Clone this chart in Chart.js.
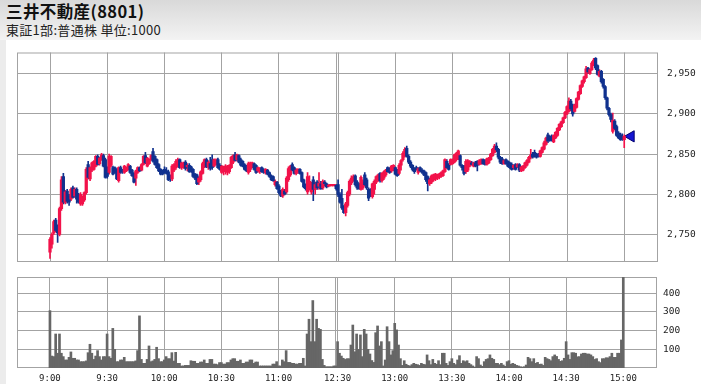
<!DOCTYPE html>
<html>
<head>
<meta charset="utf-8">
<script src="https://cdn.jsdelivr.net/npm/chart.js@4.4.1/dist/chart.umd.min.js"></script>
<style>
    body {
        margin: 0;
        width: 701px;
        height: 384px;
        overflow: hidden;
        position: relative;
        background: #ffffff;
        font-family: "Noto Sans CJK JP", sans-serif;
    }
    .header {
        position: absolute;
        left: 0;
        top: 0;
        width: 701px;
        height: 40px;
        background: linear-gradient(#d9d9d9, #f3f3f3);
    }
    .title {
        position: absolute;
        left: 6px;
        top: -1px;
        font-size: 16.5px;
        font-weight: bold;
        letter-spacing: 0.4px;
        color: #111;
        white-space: nowrap;
    }
    .subtitle {
        position: absolute;
        left: 6px;
        top: 20px;
        font-size: 13px;
        letter-spacing: 0.3px;
        color: #222;
        white-space: nowrap;
    }
    .strip {
        position: absolute;
        left: 0;
        top: 40px;
        width: 6px;
        height: 344px;
        background: #ececec;
    }
    #price-chart {
        position: absolute;
        left: 0;
        top: 45px;
    }
    #volume-chart {
        position: absolute;
        left: 0;
        top: 270px;
    }
</style>
</head>
<body>
<div class="header">
    <div class="title">三井不動産(8801)</div>
    <div class="subtitle">東証1部:普通株 単位:1000</div>
</div>
<div class="strip"></div>
<canvas id="price-chart" width="701" height="225"></canvas>
<canvas id="volume-chart" width="701" height="114"></canvas>

<script>
// one candle per minute: 0 = 9:00 ... 150 = 11:30, 151 = 12:30 ... 301 = 15:00
const tickMinutes = [0, 30, 60, 90, 120, 150, 151, 181, 211, 241, 271, 301];
const tickLabels = ['9:00', '9:30', '10:00', '10:30', '11:00', '', '12:30', '13:00', '13:30', '14:00', '14:30', '15:00'];
const priceTicks = [2750, 2800, 2850, 2900, 2950];
const volumeTicks = [100, 200, 300, 400];

const open = [
    2728, 2738, 2752, 2768, 2760, 2750, 2782, 2822, 2790, 2804,
    2798, 2794, 2808, 2798, 2806, 2800, 2788, 2788, 2793, 2802,
    2837, 2819, 2830, 2831, 2835, 2847, 2838, 2843, 2848, 2843,
    2833, 2827, 2836, 2833, 2833, 2831, 2817, 2833, 2829, 2827,
    2829, 2831, 2835, 2830, 2826, 2820, 2827, 2833, 2830, 2837,
    2848, 2835, 2838, 2843, 2853, 2847, 2843, 2837, 2831, 2829,
    2831, 2829, 2828, 2822, 2819, 2830, 2833, 2836, 2843, 2833,
    2834, 2840, 2834, 2836, 2834, 2831, 2825, 2824, 2815, 2818,
    2826, 2835, 2843, 2834, 2838, 2843, 2835, 2837, 2843, 2836,
    2827, 2828, 2829, 2827, 2828, 2833, 2840, 2849, 2843, 2848,
    2843, 2841, 2837, 2835, 2827, 2831, 2834, 2838, 2836, 2829,
    2828, 2833, 2830, 2827, 2830, 2827, 2823, 2822, 2812, 2815,
    2810, 2803, 2798, 2804, 2803, 2818, 2824, 2837, 2833, 2826,
    2828, 2831, 2827, 2818, 2812, 2803, 2808, 2803, 2818, 2806,
    2815, 2810, 2813, 2808, 2815, 2813, 2810, 2811, 2811, 2811,
    2811, 2812, 2800, 2795, 2784, 2777, 2786, 2800, 2814, 2818,
    2823, 2815, 2812, 2806, 2808, 2824, 2818, 2806, 2805, 2797,
    2806, 2815, 2818, 2826, 2817, 2820, 2824, 2833, 2831, 2829,
    2831, 2833, 2829, 2826, 2836, 2843, 2848, 2857, 2847, 2840,
    2836, 2831, 2833, 2827, 2833, 2830, 2829, 2827, 2822, 2813,
    2815, 2818, 2819, 2820, 2821, 2822, 2823, 2828, 2841, 2836,
    2837, 2838, 2840, 2843, 2845, 2848, 2836, 2835, 2828, 2830,
    2835, 2839, 2835, 2839, 2841, 2837, 2838, 2843, 2842, 2837,
    2839, 2843, 2848, 2852, 2860, 2856, 2846, 2844, 2838, 2843,
    2841, 2839, 2837, 2833, 2837, 2834, 2837, 2829, 2830, 2833,
    2836, 2840, 2846, 2850, 2852, 2850, 2849, 2847, 2852, 2856,
    2862, 2874, 2871, 2872, 2865, 2870, 2873, 2880, 2884, 2889,
    2895, 2900, 2903, 2916, 2911, 2903, 2908, 2918, 2925, 2934,
    2940, 2945, 2957, 2950, 2955, 2961, 2969, 2960, 2947, 2953,
    2943, 2934, 2920, 2907, 2899, 2878, 2891, 2884, 2876, 2874,
    2872, 2868
];

const high = [
    2746, 2752, 2768, 2770, 2762, 2784, 2822, 2826, 2805, 2806,
    2800, 2808, 2810, 2808, 2808, 2801, 2802, 2798, 2803, 2833,
    2841, 2834, 2840, 2842, 2848, 2849, 2846, 2851, 2850, 2845,
    2834, 2850, 2848, 2835, 2834, 2832, 2834, 2835, 2831, 2836,
    2834, 2838, 2836, 2831, 2827, 2830, 2834, 2834, 2838, 2848,
    2852, 2846, 2844, 2849, 2857, 2848, 2844, 2838, 2832, 2830,
    2834, 2833, 2830, 2824, 2837, 2838, 2843, 2845, 2844, 2840,
    2840, 2842, 2838, 2838, 2835, 2832, 2826, 2825, 2822, 2829,
    2840, 2844, 2845, 2842, 2846, 2849, 2844, 2844, 2845, 2838,
    2836, 2835, 2837, 2836, 2837, 2847, 2849, 2852, 2850, 2849,
    2845, 2842, 2838, 2836, 2840, 2840, 2840, 2839, 2837, 2834,
    2833, 2834, 2832, 2832, 2831, 2828, 2824, 2823, 2818, 2816,
    2812, 2805, 2808, 2806, 2822, 2834, 2836, 2839, 2834, 2832,
    2832, 2832, 2828, 2819, 2813, 2827, 2823, 2815, 2822, 2815,
    2817, 2827, 2816, 2818, 2817, 2814, 2812, 2812, 2812, 2812,
    2812, 2818, 2802, 2806, 2786, 2790, 2804, 2818, 2823, 2824,
    2824, 2817, 2814, 2823, 2818, 2827, 2820, 2808, 2807, 2814,
    2818, 2823, 2825, 2827, 2827, 2829, 2831, 2834, 2833, 2836,
    2837, 2834, 2831, 2838, 2843, 2853, 2858, 2860, 2849, 2842,
    2837, 2833, 2835, 2833, 2834, 2832, 2830, 2828, 2823, 2820,
    2824, 2825, 2826, 2825, 2826, 2828, 2830, 2844, 2843, 2838,
    2844, 2844, 2850, 2852, 2855, 2849, 2837, 2836, 2843, 2843,
    2842, 2841, 2840, 2841, 2842, 2843, 2844, 2844, 2843, 2845,
    2846, 2851, 2857, 2862, 2864, 2857, 2847, 2846, 2843, 2844,
    2842, 2840, 2839, 2837, 2838, 2838, 2838, 2835, 2836, 2840,
    2843, 2847, 2856, 2852, 2855, 2851, 2851, 2855, 2859, 2866,
    2871, 2876, 2873, 2874, 2874, 2878, 2883, 2888, 2891, 2896,
    2903, 2910, 2920, 2918, 2912, 2912, 2920, 2928, 2936, 2942,
    2947, 2959, 2958, 2956, 2965, 2969, 2970, 2961, 2955, 2954,
    2944, 2935, 2921, 2908, 2901, 2901, 2893, 2886, 2878, 2876,
    2875, 2874
];

const low = [
    2720, 2733, 2750, 2753, 2740, 2748, 2780, 2788, 2788, 2789,
    2786, 2792, 2795, 2796, 2789, 2789, 2786, 2786, 2791, 2800,
    2819, 2817, 2828, 2830, 2834, 2836, 2836, 2842, 2834, 2820,
    2820, 2825, 2834, 2824, 2826, 2818, 2815, 2826, 2826, 2826,
    2828, 2830, 2826, 2822, 2814, 2811, 2826, 2828, 2829, 2836,
    2838, 2834, 2837, 2842, 2840, 2836, 2832, 2828, 2824, 2824,
    2826, 2825, 2817, 2816, 2817, 2828, 2831, 2834, 2832, 2831,
    2832, 2830, 2829, 2827, 2827, 2821, 2818, 2812, 2812, 2816,
    2825, 2833, 2833, 2831, 2830, 2831, 2834, 2836, 2832, 2830,
    2826, 2824, 2825, 2824, 2826, 2832, 2838, 2841, 2841, 2839,
    2835, 2834, 2830, 2828, 2825, 2828, 2833, 2830, 2826, 2827,
    2826, 2827, 2826, 2825, 2824, 2821, 2817, 2816, 2810, 2806,
    2800, 2797, 2796, 2799, 2801, 2816, 2822, 2829, 2825, 2824,
    2826, 2825, 2815, 2808, 2805, 2800, 2805, 2800, 2792, 2800,
    2806, 2806, 2806, 2806, 2810, 2808, 2809, 2810, 2810, 2810,
    2805, 2797, 2789, 2781, 2776, 2773, 2784, 2798, 2812, 2816,
    2810, 2806, 2806, 2805, 2806, 2810, 2806, 2792, 2797, 2795,
    2800, 2813, 2816, 2815, 2815, 2818, 2822, 2827, 2826, 2827,
    2829, 2824, 2822, 2824, 2830, 2841, 2846, 2846, 2838, 2833,
    2829, 2826, 2830, 2825, 2828, 2826, 2823, 2816, 2804, 2811,
    2813, 2816, 2817, 2818, 2819, 2821, 2822, 2827, 2832, 2830,
    2836, 2837, 2839, 2841, 2843, 2835, 2830, 2824, 2826, 2828,
    2834, 2836, 2834, 2834, 2829, 2836, 2837, 2837, 2836, 2836,
    2838, 2842, 2847, 2851, 2853, 2844, 2838, 2837, 2837, 2837,
    2834, 2832, 2830, 2831, 2830, 2833, 2828, 2828, 2829, 2832,
    2835, 2839, 2844, 2845, 2846, 2845, 2846, 2846, 2851, 2855,
    2861, 2864, 2866, 2866, 2864, 2869, 2872, 2879, 2883, 2888,
    2894, 2899, 2902, 2904, 2897, 2902, 2907, 2917, 2924, 2933,
    2938, 2944, 2950, 2949, 2954, 2960, 2955, 2948, 2946, 2938,
    2932, 2918, 2905, 2897, 2890, 2876, 2880, 2872, 2869, 2867,
    2867, 2858
];

const close = [
    2744, 2750, 2766, 2755, 2752, 2782, 2818, 2790, 2803, 2791,
    2790, 2806, 2796, 2806, 2794, 2790, 2800, 2797, 2802, 2831,
    2821, 2833, 2839, 2841, 2847, 2837, 2845, 2849, 2835, 2821,
    2822, 2847, 2847, 2825, 2827, 2819, 2833, 2827, 2828, 2835,
    2833, 2837, 2827, 2823, 2815, 2829, 2833, 2829, 2837, 2847,
    2839, 2845, 2843, 2848, 2841, 2837, 2833, 2829, 2825, 2825,
    2827, 2826, 2818, 2820, 2835, 2837, 2841, 2843, 2833, 2839,
    2838, 2832, 2836, 2828, 2829, 2822, 2820, 2813, 2820, 2828,
    2838, 2843, 2834, 2840, 2832, 2833, 2843, 2842, 2833, 2831,
    2835, 2834, 2835, 2833, 2836, 2846, 2848, 2842, 2849, 2840,
    2836, 2835, 2831, 2829, 2838, 2839, 2839, 2831, 2827, 2833,
    2832, 2828, 2827, 2831, 2825, 2822, 2818, 2817, 2816, 2807,
    2802, 2798, 2806, 2800, 2820, 2832, 2835, 2830, 2826, 2830,
    2831, 2826, 2816, 2809, 2807, 2822, 2816, 2812, 2806, 2812,
    2808, 2814, 2807, 2816, 2813, 2809, 2811, 2811, 2811, 2811,
    2807, 2799, 2790, 2783, 2777, 2788, 2802, 2816, 2820, 2822,
    2812, 2808, 2807, 2821, 2815, 2812, 2808, 2795, 2800, 2813,
    2816, 2822, 2824, 2817, 2826, 2828, 2830, 2828, 2827, 2835,
    2836, 2825, 2823, 2836, 2842, 2851, 2856, 2847, 2840, 2835,
    2831, 2828, 2831, 2832, 2829, 2827, 2824, 2818, 2813, 2818,
    2823, 2824, 2825, 2824, 2825, 2827, 2829, 2843, 2833, 2831,
    2843, 2843, 2849, 2851, 2854, 2836, 2833, 2826, 2841, 2842,
    2841, 2837, 2839, 2835, 2836, 2842, 2843, 2838, 2837, 2844,
    2845, 2850, 2856, 2860, 2855, 2846, 2840, 2838, 2842, 2838,
    2835, 2833, 2831, 2836, 2831, 2837, 2830, 2834, 2835, 2839,
    2842, 2846, 2849, 2846, 2847, 2846, 2847, 2854, 2858, 2864,
    2870, 2866, 2867, 2867, 2873, 2877, 2882, 2887, 2890, 2895,
    2902, 2909, 2916, 2906, 2900, 2911, 2919, 2927, 2935, 2941,
    2946, 2956, 2952, 2955, 2963, 2967, 2957, 2949, 2953, 2940,
    2934, 2920, 2907, 2899, 2893, 2892, 2882, 2873, 2870, 2868,
    2868, 2872
];

const volume = [
    307, 64, 61, 182, 79, 182, 79, 61, 43, 43,
    57, 86, 52, 52, 43, 43, 34, 34, 34, 38,
    82, 127, 79, 46, 64, 93, 61, 43, 61, 61,
    182, 61, 52, 212, 100, 34, 34, 43, 43, 57,
    34, 34, 34, 34, 34, 38, 93, 279, 46, 25,
    25, 46, 118, 34, 38, 46, 111, 50, 34, 34,
    43, 61, 50, 50, 82, 37, 84, 25, 25, 11,
    11, 14, 14, 14, 39, 36, 36, 25, 25, 32,
    32, 43, 25, 25, 46, 46, 21, 21, 18, 29,
    29, 21, 21, 29, 29, 43, 50, 50, 36, 36,
    43, 25, 25, 32, 32, 43, 43, 25, 32, 32,
    11, 11, 11, 11, 11, 11, 11, 21, 21, 34,
    11, 11, 43, 34, 93, 30, 30, 25, 25, 21,
    21, 25, 25, 52, 11, 182, 261, 141, 361, 141,
    261, 212, 207, 46, 14, 7, 7, 7, 7, 11,
    11, 141, 79, 64, 52, 46, 50, 50, 123, 230,
    87, 182, 100, 177, 61, 207, 182, 100, 75, 40,
    30, 189, 225, 118, 141, 11, 43, 221, 141, 70,
    93, 239, 204, 123, 50, 14, 39, 20, 14, 11,
    18, 25, 20, 18, 14, 25, 20, 18, 70, 39,
    18, 46, 25, 20, 39, 18, 79, 79, 25, 14,
    34, 50, 25, 18, 43, 66, 25, 39, 34, 39,
    25, 18, 11, 5, 61, 50, 16, 9, 34, 46,
    50, 70, 52, 46, 25, 25, 18, 25, 16, 9,
    34, 39, 20, 25, 20, 14, 11, 7, 5, 7,
    16, 57, 50, 34, 50, 25, 30, 20, 21, 14,
    57, 50, 46, 39, 61, 70, 62, 46, 36, 39,
    52, 141, 70, 46, 82, 82, 79, 60, 61, 75,
    79, 79, 75, 75, 70, 61, 46, 50, 34, 29,
    50, 50, 55, 54, 61, 79, 57, 57, 79, 79,
    150, 485
];

const UP = '#f2124a';
const DOWN = '#10318e';
const GRID = '#a3a3a3';

Chart.defaults.font.family = '"DejaVu Sans Mono", monospace';
Chart.defaults.font.size = 9.5;
Chart.defaults.color = '#333';

const candleColors = open.map((o, i) => close[i] >= o ? UP : DOWN);

const frame = {
    id: 'frame',
    beforeDatasetsDraw(chart) {
        const {ctx, chartArea} = chart;
        ctx.save();
        ctx.strokeStyle = GRID;
        ctx.lineWidth = 1;
        ctx.strokeRect(chartArea.left + 0.5, chartArea.top + 0.5, chartArea.width - 1, chartArea.height - 1);
        ctx.restore();
    }
};

function minuteAxis(showLabels) {
    return {
        type: 'linear',
        min: -17.3,
        max: 318.7,
        offset: false,
        afterBuildTicks: (scale) => {
            scale.ticks = tickMinutes.map(v => ({value: v}));
        },
        afterFit: (scale) => {
            scale.height = showLabels ? 16 : 0;
            scale.paddingLeft = 0;
            scale.paddingRight = 0;
        },
        grid: {
            color: GRID,
            drawTicks: false,
            offset: false
        },
        border: {
            display: false
        },
        ticks: {
            display: showLabels,
            autoSkip: false,
            maxRotation: 0,
            padding: 5,
            font: {size: 9},
            color: '#222',
            callback: function (value) {
                const i = tickMinutes.indexOf(value);
                return i >= 0 ? tickLabels[i] : '';
            }
        }
    };
}

function valueAxis(min, max, tickValues, width, pad, format) {
    return {
        position: 'right',
        min: min,
        max: max,
        afterBuildTicks: (scale) => {
            scale.ticks = tickValues.map(v => ({value: v}));
        },
        afterFit: (scale) => {
            scale.width = width;
            // labels sit inside the range, no need for extra room above or below
            scale.paddingTop = 0;
            scale.paddingBottom = 0;
        },
        grid: {
            color: GRID,
            drawTicks: false
        },
        border: {
            display: false
        },
        ticks: {
            padding: pad,
            color: '#222',
            callback: format
        }
    };
}

const lastIndex = close.length - 1;

new Chart(document.getElementById('price-chart'), {
    type: 'bar',
    data: {
        datasets: [
            {
                label: 'body',
                data: open.map((o, i) => ({x: i, y: [o, close[i]]})),
                backgroundColor: candleColors,
                barThickness: 2.6,
                minBarLength: 1,
                grouped: false
            },
            {
                label: 'wick',
                data: low.map((l, i) => ({x: i, y: [l, high[i]]})),
                backgroundColor: candleColors,
                barThickness: 1,
                grouped: false
            },
            {
                type: 'scatter',
                label: 'last',
                data: [{x: lastIndex + 3.5, y: close[lastIndex]}],
                pointStyle: 'triangle',
                rotation: 270,
                radius: 6.5,
                backgroundColor: '#1414d2',
                borderColor: '#00006e',
                borderWidth: 1
            }
        ]
    },
    options: {
        responsive: false,
        animation: false,
        layout: {
            padding: {left: 17, top: 6, right: 0, bottom: 8}
        },
        plugins: {
            legend: {display: false},
            tooltip: {enabled: false}
        },
        scales: {
            x: minuteAxis(false),
            y: valueAxis(2715.7, 2976.3, priceTicks, 43, 9, value => value.toLocaleString('en-US'))
        }
    },
    plugins: [frame]
});

new Chart(document.getElementById('volume-chart'), {
    type: 'bar',
    data: {
        datasets: [{
            label: 'volume',
            data: volume.map((v, i) => ({x: i, y: v})),
            backgroundColor: '#666666',
            barThickness: 2
        }]
    },
    options: {
        responsive: false,
        animation: false,
        layout: {
            padding: {left: 17, top: 7, right: 0, bottom: 0}
        },
        plugins: {
            legend: {display: false},
            tooltip: {enabled: false}
        },
        scales: {
            x: minuteAxis(true),
            y: valueAxis(0, 487, volumeTicks, 44, 6, value => value)
        }
    },
    plugins: [frame]
});
</script>
</body>
</html>
